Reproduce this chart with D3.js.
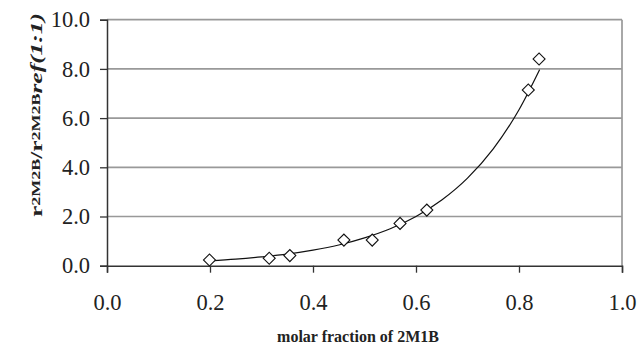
<!DOCTYPE html>
<html>
<head>
<meta charset="utf-8">
<script src="https://cdn.jsdelivr.net/npm/d3@7"></script>
<style>
  body { margin: 0; background: #fff; }
  svg { display: block; }
  .tick text { font-family: "Times New Roman", "Liberation Serif", serif; fill: #222; }
</style>
</head>
<body>
<script>
// measured points (molar fraction of 2M1B, relative rate)
const molarFraction = [0.199, 0.315, 0.355, 0.460, 0.515, 0.569, 0.621, 0.818, 0.839];
const rateRatio = [0.23, 0.30, 0.41, 1.04, 1.04, 1.72, 2.26, 7.14, 8.40];

// trendline
const trendX = [0.20, 0.25, 0.30, 0.35, 0.40, 0.45, 0.50, 0.55, 0.60, 0.65, 0.70, 0.75, 0.80, 0.84];
const trendY = [0.20, 0.27, 0.36, 0.47, 0.63, 0.84, 1.13, 1.50, 2.00, 2.67, 3.56, 4.75, 6.34, 7.97];

const xTicks = [0, 0.2, 0.4, 0.6, 0.8, 1.0];
const yTicks = [0, 2, 4, 6, 8, 10];

const W = 637, H = 345;
const margin = { top: 19.7, right: 15, bottom: 79.3, left: 107 };
const w = W - margin.left - margin.right;
const h = H - margin.top - margin.bottom;

const svg = d3.select("body").append("svg")
  .attr("width", W)
  .attr("height", H);

const g = svg.append("g")
  .attr("transform", `translate(${margin.left},${margin.top})`);

const x = d3.scaleLinear().domain([0, 1]).range([0, w]);
const y = d3.scaleLinear().domain([0, 10]).range([h, 0]);

// gridlines + frame (gray)
g.selectAll(".grid")
  .data(yTicks.filter(d => d > 0))
  .enter().append("line")
  .attr("class", "grid")
  .attr("x1", 0).attr("x2", w)
  .attr("y1", d => y(d)).attr("y2", d => y(d))
  .attr("stroke", "#999")
  .attr("stroke-width", 1.7);

g.append("line")
  .attr("x1", w).attr("x2", w)
  .attr("y1", y(10)).attr("y2", h)
  .attr("stroke", "#999")
  .attr("stroke-width", 1.7);

// axes
const xAxis = d3.axisBottom(x)
  .tickValues(xTicks)
  .tickSize(7)
  .tickPadding(21)
  .tickFormat(d3.format(".1f"));

const yAxis = d3.axisLeft(y)
  .tickValues(yTicks)
  .tickSize(7)
  .tickPadding(10)
  .tickFormat(d3.format(".1f"));

const xAxisG = g.append("g")
  .attr("transform", `translate(0,${h})`)
  .call(xAxis);

const yAxisG = g.append("g").call(yAxis);

[xAxisG, yAxisG].forEach(a => {
  a.select(".domain").attr("stroke", "#333").attr("stroke-width", 1.5);
  a.selectAll(".tick line").attr("stroke", "#333").attr("stroke-width", 1.3);
  a.selectAll(".tick text").style("font-size", "22.5px");
});

// trend line
const line = d3.line()
  .x((d, i) => x(trendX[i]))
  .y(d => y(d))
  .curve(d3.curveMonotoneX);

g.append("path")
  .datum(trendY)
  .attr("d", line)
  .attr("fill", "none")
  .attr("stroke", "#111")
  .attr("stroke-width", 1.2);

// diamond markers
const diamond = d3.symbol(d3.symbolSquare, 72);

g.selectAll(".pt")
  .data(rateRatio)
  .enter().append("path")
  .attr("class", "pt")
  .attr("d", diamond)
  .attr("transform", (d, i) => `translate(${x(molarFraction[i])},${y(d)}) rotate(45)`)
  .attr("fill", "#fff")
  .attr("stroke", "#111")
  .attr("stroke-width", 1.1);

// x label
svg.append("text")
  .attr("x", 358)
  .attr("y", 342)
  .attr("text-anchor", "middle")
  .style("font-family", "'Times New Roman', 'Liberation Serif', serif")
  .style("font-weight", "bold")
  .style("font-size", "16px")
  .attr("fill", "#222")
  .text("molar fraction of 2M1B");

// y label
const yLabel = svg.append("text")
  .attr("transform", "translate(41.5,115) rotate(-90)")
  .attr("text-anchor", "middle")
  .attr("textLength", 204)
  .attr("lengthAdjust", "spacingAndGlyphs")
  .style("font-family", "'Times New Roman', 'Liberation Serif', serif")
  .style("font-weight", "bold")
  .style("font-size", "17px")
  .attr("fill", "#222");

yLabel.append("tspan").text("r");
yLabel.append("tspan").attr("dy", -2).style("font-size", "12px").text("2M2B");
yLabel.append("tspan").attr("dy", 2).text("/r");
yLabel.append("tspan").attr("dy", -2).style("font-size", "12px").text("2M2B");
yLabel.append("tspan").attr("dy", 2).style("font-style", "italic").text("ref(1:1)");
</script>
</body>
</html>
